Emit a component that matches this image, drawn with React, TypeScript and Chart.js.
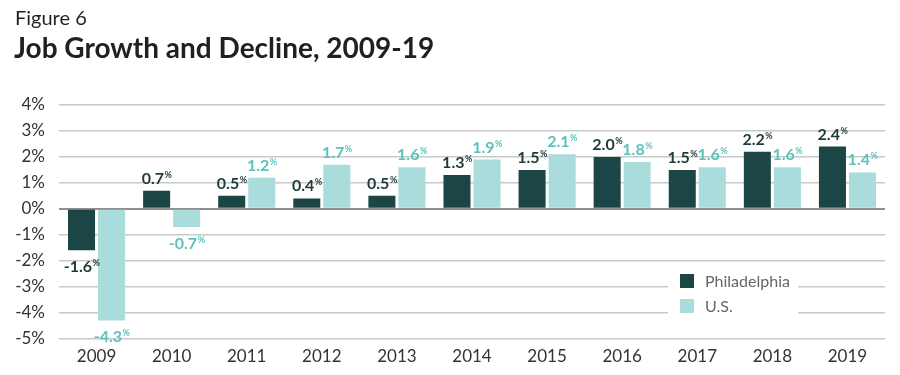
import React, { useEffect, useRef } from "react";
import { Chart, registerables } from "chart.js";

Chart.register(...registerables);

const years = ["2009", "2010", "2011", "2012", "2013", "2014", "2015", "2016", "2017", "2018", "2019"];
const philadelphia = [-1.6, 0.7, 0.5, 0.4, 0.5, 1.3, 1.5, 2.0, 1.5, 2.2, 2.4];
const us = [-4.3, -0.7, 1.2, 1.7, 1.6, 1.9, 2.1, 1.8, 1.6, 1.6, 1.4];
const seriesNames = ["Philadelphia", "U.S."];
const barColors = ["#1b4645", "#a9dcda"];
const labelColors = ["#1e3b3b", "#5cc2bc"];
const figureLabel = "Figure 6";
const titleText = "Job Growth and Decline, 2009-19";

const FONT = "Lato, 'Open Sans', sans-serif";

const titlePlugin = {
  id: "titles",
  afterDraw(chart: any) {
    const ctx = chart.ctx;
    ctx.save();
    ctx.fillStyle = "#231f20";
    ctx.textAlign = "left";
    ctx.textBaseline = "alphabetic";
    ctx.font = `400 20px ${FONT}`;
    ctx.fillText(figureLabel, 15, 25);
    ctx.font = `700 28px ${FONT}`;
    ctx.fillText(titleText, 14, 58);
    ctx.restore();
  },
};

const valueLabelPlugin = {
  id: "valueLabels",
  afterDatasetsDraw(chart: any) {
    const ctx = chart.ctx;
    ctx.save();
    chart.data.datasets.forEach((ds: any, di: number) => {
      const meta = chart.getDatasetMeta(di);
      meta.data.forEach((el: any, i: number) => {
        const v = ds.data[i] as number;
        const main = v.toFixed(1);
        ctx.font = `700 16px ${FONT}`;
        const wMain = ctx.measureText(main).width;
        ctx.font = `700 9px ${FONT}`;
        const wSup = ctx.measureText("%").width;
        const total = wMain + wSup;
        const x0 = el.x - total / 2;
        const baseY = v >= 0 ? el.y - 7 : el.y + 22;
        ctx.fillStyle = labelColors[di];
        ctx.textAlign = "left";
        ctx.textBaseline = "alphabetic";
        ctx.font = `700 16px ${FONT}`;
        ctx.fillText(main, x0, baseY);
        ctx.font = `700 9px ${FONT}`;
        ctx.fillText("%", x0 + wMain + 0.5, baseY - 6);
      });
    });
    ctx.restore();
  },
};

const legendPlugin = {
  id: "customLegend",
  afterDatasetsDraw(chart: any) {
    const ctx = chart.ctx;
    ctx.save();
    ctx.fillStyle = "#ffffff";
    ctx.fillRect(668, 268, 130, 52);
    const rows = [281, 306];
    seriesNames.forEach((name, i) => {
      ctx.fillStyle = barColors[i];
      ctx.fillRect(680, rows[i] - 7, 14, 14);
      ctx.fillStyle = "#666666";
      ctx.font = `400 16px ${FONT}`;
      ctx.textAlign = "left";
      ctx.textBaseline = "middle";
      ctx.fillText(name, 705, rows[i] + 1);
    });
    ctx.restore();
  },
};

export default function App() {
  const canvasRef = useRef<HTMLCanvasElement | null>(null);

  useEffect(() => {
    document.body.style.margin = "0";
    const canvas = canvasRef.current;
    if (!canvas) return;
    const chart = new Chart(canvas, {
      type: "bar",
      data: {
        labels: years,
        datasets: seriesNames.map((name, i) => ({
          label: name,
          data: i === 0 ? philadelphia : us,
          backgroundColor: barColors[i],
          borderWidth: 0,
          categoryPercentage: 0.8,
          barPercentage: 0.9,
        })),
      },
      options: {
        animation: false,
        responsive: false,
        maintainAspectRatio: false,
        layout: { padding: { top: 105, right: 15, left: 0, bottom: 0 } },
        plugins: {
          legend: { display: false },
          title: { display: false },
          tooltip: { enabled: false },
        },
        scales: {
          x: {
            grid: { display: false, drawTicks: false },
            border: { display: false },
            ticks: {
              color: "#333333",
              font: { family: FONT, size: 17 },
              padding: 8,
            },
          },
          y: {
            min: -5,
            max: 4,
            afterFit(scale: any) {
              scale.width = 59;
            },
            grid: {
              drawTicks: false,
              color: (c: any) => (c.tick && c.tick.value === 0 ? "#8f8f8f" : "#c9c9c9"),
              lineWidth: (c: any) => (c.tick && c.tick.value === 0 ? 2 : 1.5),
            },
            border: { display: false },
            ticks: {
              stepSize: 1,
              color: "#333333",
              font: { family: FONT, size: 17 },
              padding: 14,
              callback: (v: any) => `${v}%`,
            },
          },
        },
      },
      plugins: [titlePlugin, valueLabelPlugin, legendPlugin],
    });
    return () => chart.destroy();
  }, []);

  return (
    <div style={{ width: 900, height: 375, background: "#fff" }}>
      <canvas ref={canvasRef} width={900} height={375} style={{ display: "block" }} />
    </div>
  );
}
